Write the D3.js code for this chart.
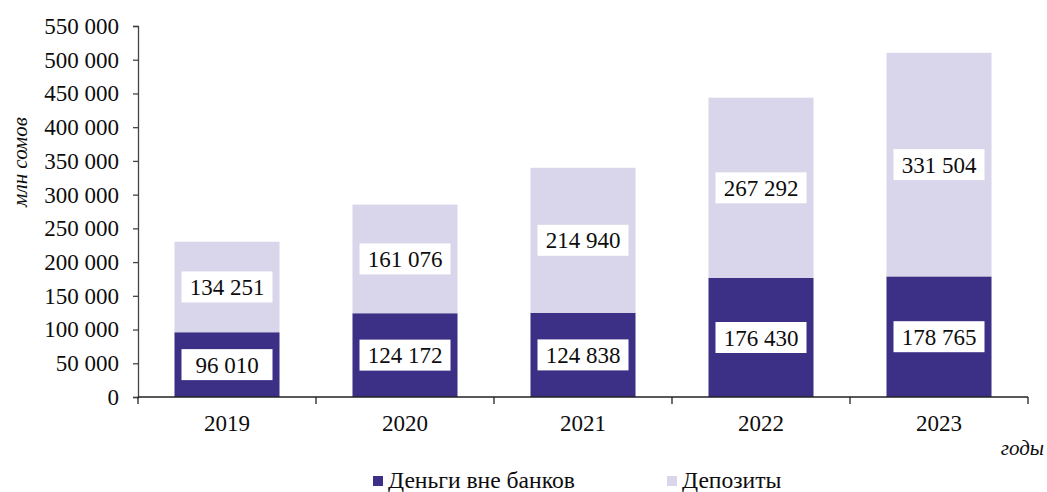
<!DOCTYPE html>
<html>
<head>
<meta charset="utf-8">
<script src="https://cdn.jsdelivr.net/npm/d3@7"></script>
<style>
  html, body { margin: 0; padding: 0; background: #fff; }
  svg text { font-family: "Liberation Serif", "Tinos", "Times New Roman", "DejaVu Serif", serif; }
</style>
</head>
<body>
<svg id="chart" width="1047" height="492"></svg>
<script>
// Money supply components, млн сомов
const years = ["2019", "2020", "2021", "2022", "2023"];
const cashOutsideBanks = [96010, 124172, 124838, 176430, 178765];
const deposits = [134251, 161076, 214940, 267292, 331504];
const seriesNames = ["Деньги вне банков", "Депозиты"];
const seriesColors = ["#3c2f86", "#d9d5ea"];
const yTicks = [0, 50000, 100000, 150000, 200000, 250000, 300000, 350000, 400000, 450000, 500000, 550000];

const svg = d3.select("#chart");
const margin = { left: 138, right: 19, top: 26, bottom: 95 };
const W = 1047, H = 492;
const fmt = v => d3.format(",")(v).replace(/,/g, " ");

const x = d3.scaleBand().domain(years)
  .range([margin.left, W - margin.right])
  .paddingInner(0.41).paddingOuter(0.205);
const y = d3.scaleLinear().domain([0, 550000]).range([H - margin.bottom, margin.top]);

const rows = years.map((yr, i) => ({ year: yr, cash: cashOutsideBanks[i], dep: deposits[i] }));
const stack = d3.stack().keys(["cash", "dep"]);
const layers = stack(rows);

// stacked bars
const g = svg.append("g");
layers.forEach((layer, li) => {
  g.selectAll(null).data(layer).enter().append("rect")
    .attr("x", d => x(d.data.year))
    .attr("width", x.bandwidth())
    .attr("y", d => y(d[1]))
    .attr("height", d => y(d[0]) - y(d[1]))
    .attr("fill", seriesColors[li]);
});

// value labels in white boxes, centred in each segment
const boxW = 91, boxH = 31;
layers.forEach((layer, li) => {
  const lg = g.selectAll(null).data(layer).enter().append("g")
    .attr("transform", d => `translate(${x(d.data.year) + x.bandwidth() / 2},${(y(d[0]) + y(d[1])) / 2})`);
  lg.append("rect").attr("x", -boxW / 2).attr("y", -boxH / 2)
    .attr("width", boxW).attr("height", boxH).attr("fill", "#fff");
  lg.append("text").attr("text-anchor", "middle").attr("dy", "0.35em")
    .attr("font-size", 23).attr("fill", "#0d0d0d")
    .text(d => fmt(d[1] - d[0]));
});

// y axis
const yAxis = d3.axisLeft(y).tickValues(yTicks).tickSize(5).tickPadding(14).tickFormat(fmt);
const ya = svg.append("g").attr("transform", `translate(${margin.left},0)`).call(yAxis)
  .attr("font-family", null);
ya.select(".domain").attr("stroke", "#444").attr("stroke-width", 1.3);
ya.selectAll(".tick line").attr("stroke", "#444").attr("stroke-width", 1.3);
ya.selectAll(".tick text").attr("font-size", 23).attr("fill", "#0d0d0d");

// x axis with ticks at category boundaries
const xa = svg.append("g").attr("transform", `translate(0,${y(0)})`);
xa.append("line").attr("x1", margin.left).attr("x2", W - margin.right)
  .attr("stroke", "#222").attr("stroke-width", 1.3);
const step = x.step();
const bounds = d3.range(years.length + 1).map(i => margin.left + i * step);
xa.selectAll(null).data(bounds).enter().append("line")
  .attr("x1", d => d).attr("x2", d => d).attr("y1", 0).attr("y2", 7)
  .attr("stroke", "#222").attr("stroke-width", 1.3);
xa.selectAll(null).data(years).enter().append("text")
  .attr("x", d => x(d) + x.bandwidth() / 2).attr("y", 34)
  .attr("text-anchor", "middle").attr("font-size", 23).attr("fill", "#0d0d0d")
  .text(d => d);

// axis titles
svg.append("text").attr("transform", `translate(27,162) rotate(-90)`)
  .attr("text-anchor", "middle").attr("font-size", 21).attr("font-style", "italic")
  .attr("fill", "#0d0d0d").text("млн сомов");
svg.append("text").attr("x", 1044).attr("y", 455).attr("text-anchor", "end")
  .attr("font-size", 21).attr("font-style", "italic").attr("fill", "#0d0d0d").text("годы");

// legend
const legendX = [373, 667];
const leg = svg.append("g");
seriesNames.forEach((name, i) => {
  leg.append("rect").attr("x", legendX[i]).attr("y", 476).attr("width", 10).attr("height", 10)
    .attr("fill", seriesColors[i]);
  leg.append("text").attr("x", legendX[i] + 15).attr("y", 488)
    .attr("font-size", 23.6).attr("fill", "#0d0d0d").text(name);
});
</script>
</body>
</html>
